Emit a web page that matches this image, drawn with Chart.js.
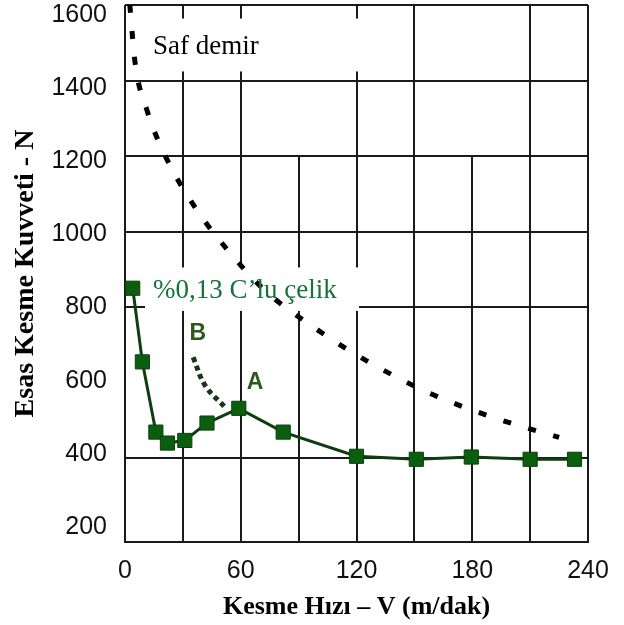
<!DOCTYPE html>
<html>
<head>
<meta charset="utf-8">
<script src="https://cdn.jsdelivr.net/npm/chart.js@4/dist/chart.umd.min.js"></script>
<style>
  html, body { margin: 0; padding: 0; background: #fff; }
  #wrap { width: 624px; height: 625px; }
</style>
</head>
<body>
<div id="wrap"><canvas id="myChart" width="624" height="625"></canvas></div>
<script>
// %0,13 C'lu çelik (green, square markers)
const steelSpeed = [4, 9, 16, 22, 31, 42.5, 59, 82, 120, 151, 179.5, 210, 233];
const steelForce = [850, 655, 469, 440, 447, 493, 532, 469, 405, 397, 403, 397, 397];

// Saf demir (black dotted curve)
const ironSpeed = [2.5, 5.2, 11.4, 21.3, 36.3, 52.9, 72.6, 100, 125.5, 158, 189, 225];
const ironForce = [1600, 1448, 1321, 1196, 1064, 953, 844, 739, 657, 572, 511, 455];

// branch B -> A (dotted)
const bSpeed = [35.3, 41.5, 51.8];
const bForce = [667, 593, 535];

// axes
const xTicks = [0, 30, 60, 90, 120, 150, 180, 210, 240];
const xLabelTicks = [0, 60, 120, 180, 240];
const yTicks = [200, 400, 600, 800, 1000, 1200, 1400, 1600];
const yGridHidden = [200, 600];
const xGridPartial = [90, 180];   // these vertical lines only run up to 1200
const xGridPartialTop = 1200;

// text labels (data units)
const notes = [
  { text: 'Saf demir', x: 14.5, y: 1490, color: '#000', font: '27px "Liberation Serif", serif',
    box: [7.8, 121.8, 1424, 1564] },
  { text: '%0,13 C\u2019lu çelik', x: 14.5, y: 842, color: '#13733a', font: '27px "Liberation Serif", serif',
    box: [10.4, 121.3, 790, 905] },
  { text: 'B', x: 37.8, y: 731, color: '#2d5a1c', font: 'bold 23px "Liberation Sans", Arial, sans-serif', center: true },
  { text: 'A', x: 67.4, y: 599, color: '#2d5a1c', font: 'bold 23px "Liberation Sans", Arial, sans-serif', center: true }
];

const toXY = (xs, ys) => xs.map((x, i) => ({ x: x, y: ys[i] }));

const notesPlugin = {
  id: 'notes',
  beforeDatasetsDraw(chart) {
    const { ctx, scales } = chart;
    const xs = scales.x, ys = scales.yGrid;
    ctx.save();
    // partial vertical grid lines
    ctx.strokeStyle = '#1a1a1a';
    ctx.lineWidth = 2;
    xGridPartial.forEach(v => {
      const px = Math.round(xs.getPixelForValue(v));
      ctx.beginPath();
      ctx.moveTo(px, ys.getPixelForValue(xGridPartialTop));
      ctx.lineTo(px, chart.chartArea.bottom);
      ctx.stroke();
    });
    // white label boxes
    ctx.fillStyle = '#fff';
    notes.filter(n => n.box).forEach(n => {
      const x0 = xs.getPixelForValue(n.box[0]), x1 = xs.getPixelForValue(n.box[1]);
      const y0 = ys.getPixelForValue(n.box[3]), y1 = ys.getPixelForValue(n.box[2]);
      ctx.fillRect(x0, y0, x1 - x0, y1 - y0);
    });
    ctx.restore();
  },
  afterDatasetsDraw(chart) {
    const { ctx, scales } = chart;
    ctx.save();
    ctx.textBaseline = 'middle';
    notes.forEach(n => {
      ctx.font = n.font;
      ctx.fillStyle = n.color;
      ctx.textAlign = n.center ? 'center' : 'left';
      ctx.fillText(n.text, scales.x.getPixelForValue(n.x), scales.yGrid.getPixelForValue(n.y));
    });
    ctx.restore();
  }
};

const noEdgePad = s => { s.paddingTop = 0; s.paddingBottom = 0; s.paddingLeft = 0; s.paddingRight = 0; };

const ctx = document.getElementById('myChart').getContext('2d');
new Chart(ctx, {
  type: 'line',
  data: {
    datasets: [
      {
        label: 'Saf demir',
        data: toXY(ironSpeed, ironForce),
        yAxisID: 'yGrid',
        borderColor: '#000',
        borderWidth: 5,
        borderDash: [8, 18],
        cubicInterpolationMode: 'monotone',
        pointRadius: 0,
        fill: false
      },
      {
        label: 'B',
        data: toXY(bSpeed, bForce),
        yAxisID: 'yGrid',
        borderColor: '#163816',
        borderWidth: 5,
        borderDash: [5, 4],
        tension: 0.4,
        pointRadius: 0,
        fill: false
      },
      {
        label: '%0,13 C\u2019lu çelik',
        data: toXY(steelSpeed, steelForce),
        yAxisID: 'yGrid',
        borderColor: '#0e3d10',
        borderWidth: 3,
        pointStyle: 'rect',
        pointRadius: 10,
        pointBackgroundColor: '#0a5e0e',
        pointBorderColor: '#0c3f0e',
        pointBorderWidth: 1,
        tension: 0,
        fill: false
      }
    ]
  },
  options: {
    responsive: false,
    animation: false,
    layout: { autoPadding: false, padding: { top: 5, right: 36, left: 0, bottom: 0 } },
    plugins: { legend: { display: false }, tooltip: { enabled: false } },
    scales: {
      x: {
        type: 'linear',
        min: 0,
        max: 240,
        afterBuildTicks: s => { s.ticks = xTicks.map(v => ({ value: v })); },
        afterFit: s => { s.height = 83; s.paddingLeft = 0; s.paddingRight = 0; },
        grid: {
          color: c => (c.tick && xGridPartial.includes(c.tick.value)) ? 'rgba(0,0,0,0)' : '#1a1a1a',
          lineWidth: 2,
          drawTicks: false
        },
        border: { display: true, color: '#1a1a1a', width: 2 },
        ticks: {
          autoSkip: false,
          maxRotation: 0,
          padding: 14,
          color: '#111',
          font: { family: '"Liberation Sans", Arial, sans-serif', size: 25 },
          callback: v => xLabelTicks.includes(v) ? String(v) : ''
        },
        title: {
          display: true,
          text: 'Kesme Hızı – V (m/dak)',
          color: '#000',
          font: { family: '"Liberation Serif", "Times New Roman", serif', size: 26, weight: 'bold' },
          padding: { top: 0, bottom: 2 }
        }
      },
      y: {
        position: 'left',
        min: 159,
        max: 1627,
        afterBuildTicks: s => { s.ticks = yTicks.map(v => ({ value: v })); },
        afterFit: s => { s.width = 125; noEdgePad(s); },
        grid: { display: false, drawTicks: false },
        border: { display: false },
        ticks: {
          padding: 18,
          color: '#111',
          font: { family: '"Liberation Sans", Arial, sans-serif', size: 25 },
          callback: v => String(v)
        },
        title: {
          display: true,
          text: 'Esas Kesme Kuvveti - N',
          color: '#000',
          font: { family: '"Liberation Serif", "Times New Roman", serif', size: 28, weight: 'bold' },
          padding: { top: 9, bottom: 0 }
        }
      },
      yGrid: {
        position: 'right',
        min: 178,
        max: 1600,
        afterBuildTicks: s => { s.ticks = yTicks.map(v => ({ value: v })); },
        afterFit: s => { s.width = 0; noEdgePad(s); },
        grid: {
          color: c => (c.tick && yGridHidden.includes(c.tick.value)) ? 'rgba(0,0,0,0)' : '#1a1a1a',
          lineWidth: 2,
          drawTicks: false
        },
        border: { display: false },
        ticks: { display: false }
      }
    }
  },
  plugins: [notesPlugin]
});
</script>
</body>
</html>
